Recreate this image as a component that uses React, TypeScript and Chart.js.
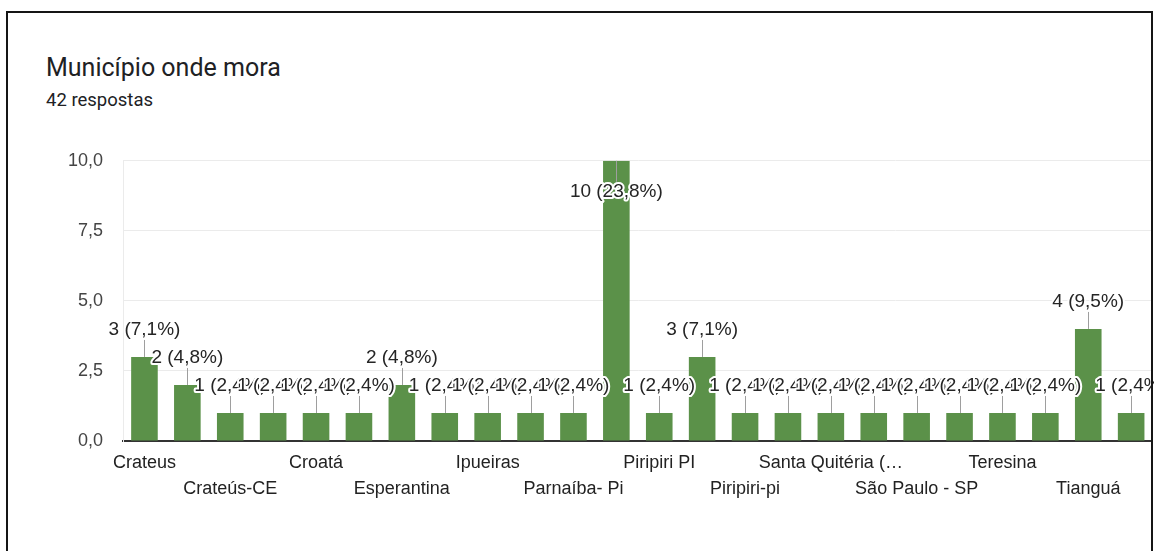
import React, { useEffect, useRef } from "react";
import { Chart, registerables } from "chart.js";

Chart.register(...registerables);

const title = "Município onde mora";
const subtitle = "42 respostas";
const totalResponses = 42;

const categories = [
  "Crateus",
  "Crateús",
  "Crateús-CE",
  "Crato",
  "Croatá",
  "Croatá-CE",
  "Esperantina",
  "Fortaleza",
  "Ipueiras",
  "Ipueiras-CE",
  "Parnaíba- Pi",
  "Piripiri",
  "Piripiri PI",
  "Piripiri-PI",
  "Piripiri-pi",
  "Poranga",
  "Santa Quitéria (CE)",
  "Santa Quitéria-CE",
  "São Paulo - SP",
  "Sobral",
  "Teresina",
  "Teresina-PI",
  "Tianguá",
  "Tianguá-CE",
];

const counts = [3, 2, 1, 1, 1, 1, 2, 1, 1, 1, 1, 10, 1, 3, 1, 1, 1, 1, 1, 1, 1, 1, 4, 1];

const yMin = 0;
const yMax = 10;
const yStep = 2.5;

const BAR_COLOR = "#5b9149";
const FONT = '"Liberation Sans", Arial, sans-serif';

const fmt1 = (v: number) => v.toFixed(1).replace(".", ",");
const truncate = (s: string) => (s.length > 16 ? s.slice(0, 16) + "…" : s);

const barLabelPlugin = {
  id: "barLabels",
  afterDatasetsDraw(chart: any) {
    const ctx = chart.ctx as CanvasRenderingContext2D;
    const meta = chart.getDatasetMeta(0);
    const area = chart.chartArea;
    const items = meta.data.map((bar: any, i: number) => {
      const v = counts[i];
      const text = `${v} (${fmt1((v / totalResponses) * 100)}%)`;
      const inside = bar.y - 40 < area.top;
      return {
        x: bar.x,
        top: bar.y,
        text,
        ty: inside ? bar.y + 31 : bar.y - 27,
        ly: inside ? bar.y + 21 : bar.y - 17,
      };
    });
    ctx.save();
    ctx.strokeStyle = "#9e9e9e";
    ctx.lineWidth = 1;
    items.forEach((it: any) => {
      const x = Math.round(it.x) + 0.5;
      ctx.beginPath();
      ctx.moveTo(x, it.top);
      ctx.lineTo(x, it.ly);
      ctx.stroke();
    });
    ctx.font = `19px ${FONT}`;
    ctx.textAlign = "center";
    ctx.textBaseline = "middle";
    ctx.lineJoin = "round";
    items.forEach((it: any) => {
      ctx.lineWidth = 4;
      ctx.strokeStyle = "#ffffff";
      ctx.strokeText(it.text, it.x, it.ty);
      ctx.fillStyle = "#252525";
      ctx.fillText(it.text, it.x, it.ty);
    });
    ctx.restore();
  },
};

function BarChart() {
  const ref = useRef<HTMLCanvasElement | null>(null);
  useEffect(() => {
    if (!ref.current) return;
    const chart = new Chart(ref.current, {
      type: "bar",
      data: {
        labels: categories,
        datasets: [
          {
            data: counts,
            backgroundColor: BAR_COLOR,
            borderWidth: 0,
            barPercentage: 0.62,
            categoryPercentage: 1,
          },
        ],
      },
      options: {
        responsive: false,
        animation: false,
        devicePixelRatio: 1,
        layout: { padding: { top: 20, right: 1.4, left: 0, bottom: 0 } },
        plugins: {
          legend: { display: false },
          tooltip: { enabled: false },
        },
        scales: {
          x: {
            grid: { display: false, drawTicks: false },
            border: { display: true, color: "#333333", width: 2 },
            afterFit: (scale: any) => {
              scale.height = 110;
            },
            ticks: {
              autoSkip: false,
              maxRotation: 0,
              minRotation: 0,
              padding: 9,
              color: "#222222",
              font: { family: FONT, size: 18, lineHeight: 26 / 18 },
              callback: (_v: any, index: number) => {
                if (index % 2 === 1) return "";
                const name = truncate(categories[index]);
                return index % 4 === 0 ? name : ["", name];
              },
            },
          },
          y: {
            min: yMin,
            max: yMax,
            grid: {
              drawTicks: false,
              color: (c: any) => (c.tick && c.tick.value === 0 ? "rgba(0,0,0,0)" : "#ebebeb"),
              lineWidth: 1,
            },
            border: { display: true, color: "#ebebeb", width: 1 },
            afterFit: (scale: any) => {
              scale.width = 123;
            },
            ticks: {
              stepSize: yStep,
              padding: 20,
              color: "#444444",
              font: { family: FONT, size: 18 },
              callback: (v: any) => fmt1(Number(v)),
            },
          },
        },
      },
      plugins: [barLabelPlugin],
    } as any);
    return () => chart.destroy();
  }, []);
  return (
    <canvas
      ref={ref}
      width={1154}
      height={421}
      style={{ position: "absolute", left: 0, top: 130, width: 1154, height: 421 }}
    />
  );
}

export default function App() {
  return (
    <div
      style={{
        position: "fixed",
        left: 0,
        top: 0,
        width: "100vw",
        height: "100vh",
        overflow: "hidden",
        background: "#ffffff",
      }}
    >
      <div
        style={{
          position: "absolute",
          left: 46,
          top: 55,
          font: `25px Roboto, "Noto Sans", sans-serif`,
          lineHeight: "25px",
          color: "#202124",
          whiteSpace: "nowrap",
        }}
      >
        {title}
      </div>
      <div
        style={{
          position: "absolute",
          left: 46,
          top: 91,
          font: `18.5px Roboto, "Noto Sans", sans-serif`,
          lineHeight: "18.5px",
          color: "#202124",
          whiteSpace: "nowrap",
        }}
      >
        {subtitle}
      </div>
      <BarChart />
      <div
        style={{
          position: "absolute",
          left: 6,
          top: 11,
          width: 1147,
          height: 700,
          boxSizing: "border-box",
          border: "2px solid #151515",
          pointerEvents: "none",
        }}
      />
    </div>
  );
}
